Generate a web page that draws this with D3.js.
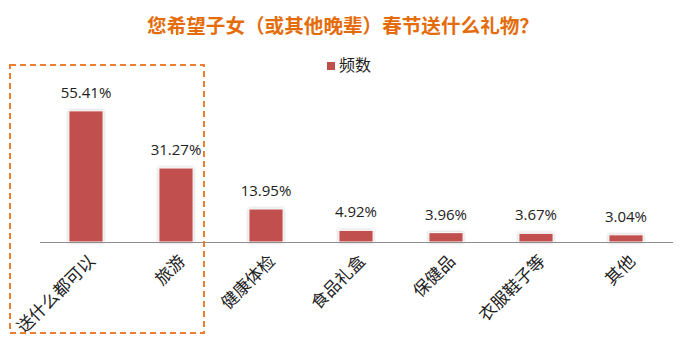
<!DOCTYPE html>
<html>
<head>
<meta charset="utf-8">
<script src="https://cdn.jsdelivr.net/npm/d3@7"></script>
<style>
  body { margin: 0; background: #fff; }
</style>
</head>
<body>
<div id="chart"></div>
<script>
const categories = ["送什么都可以", "旅游", "健康体检", "食品礼盒", "保健品", "衣服鞋子等", "其他"];
const values = [55.41, 31.27, 13.95, 4.92, 3.96, 3.67, 3.04];
const seriesName = "频数";
const title = "您希望子女（或其他晚辈）春节送什么礼物？";

const width = 693, height = 351;
const cjk = "'Noto Sans CJK SC', sans-serif";

const svg = d3.select("#chart")
    .append("svg")
    .attr("width", width)
    .attr("height", height);

const defs = svg.append("defs");
const glow = defs.append("filter")
    .attr("id", "glow")
    .attr("x", "-30%").attr("y", "-30%")
    .attr("width", "160%").attr("height", "160%");
glow.append("feDropShadow")
    .attr("dx", 0).attr("dy", 0)
    .attr("stdDeviation", 1.4)
    .attr("flood-color", "#888")
    .attr("flood-opacity", 0.55);

const x = d3.scaleBand()
    .domain(categories)
    .range([41, 671])
    .paddingInner(0.62)
    .paddingOuter(0.31);

const y = d3.scaleLinear()
    .domain([0, 60])
    .range([242, 100]);

// title
svg.append("text")
    .attr("x", 343)
    .attr("y", 33)
    .attr("text-anchor", "middle")
    .attr("fill", "#E46C0A")
    .style("font-family", cjk)
    .style("font-weight", "bold")
    .style("font-size", "19.6px")
    .text(title);

// legend
svg.append("rect")
    .attr("x", 327).attr("y", 62)
    .attr("width", 8).attr("height", 8)
    .attr("fill", "#C0504D");
svg.append("text")
    .attr("x", 339).attr("y", 71)
    .attr("fill", "#222")
    .style("font-family", cjk)
    .style("font-size", "16px")
    .text(seriesName);

// bars
svg.selectAll(".bar")
    .data(values)
    .join("rect")
    .attr("class", "bar")
    .attr("x", (d, i) => x(categories[i]))
    .attr("y", d => y(d))
    .attr("width", x.bandwidth())
    .attr("height", d => y(0) - y(d))
    .attr("fill", "#C0504D")
    .attr("stroke", "#fff")
    .attr("stroke-width", 1)
    .attr("filter", "url(#glow)");

// axis line
svg.append("line")
    .attr("x1", 40).attr("x2", 673)
    .attr("y1", y(0) + 0.5).attr("y2", y(0) + 0.5)
    .attr("stroke", "#8c8c8c")
    .attr("stroke-width", 1);

// value labels
svg.selectAll(".val")
    .data(values)
    .join("text")
    .attr("class", "val")
    .attr("x", (d, i) => x(categories[i]) + x.bandwidth() / 2)
    .attr("y", d => y(d) - 13)
    .attr("text-anchor", "middle")
    .attr("fill", "#222")
    .style("font-family", "'Open Sans', sans-serif")
    .style("font-size", "15px")
    .text(d => d.toFixed(2) + "%");

// category labels
svg.selectAll(".cat")
    .data(categories)
    .join("text")
    .attr("class", "cat")
    .attr("transform", d => `translate(${x(d) + x.bandwidth() / 2 + 3},${255}) rotate(-45)`)
    .attr("text-anchor", "end")
    .attr("dy", "0.6em")
    .attr("fill", "#222")
    .style("font-family", cjk)
    .style("font-size", "17px")
    .text(d => d);

// highlight box
svg.append("rect")
    .attr("x", 10).attr("y", 65)
    .attr("width", 194).attr("height", 268)
    .attr("fill", "none")
    .attr("stroke", "#ED7D31")
    .attr("stroke-width", 2)
    .attr("stroke-dasharray", "6,4");
</script>
</body>
</html>
